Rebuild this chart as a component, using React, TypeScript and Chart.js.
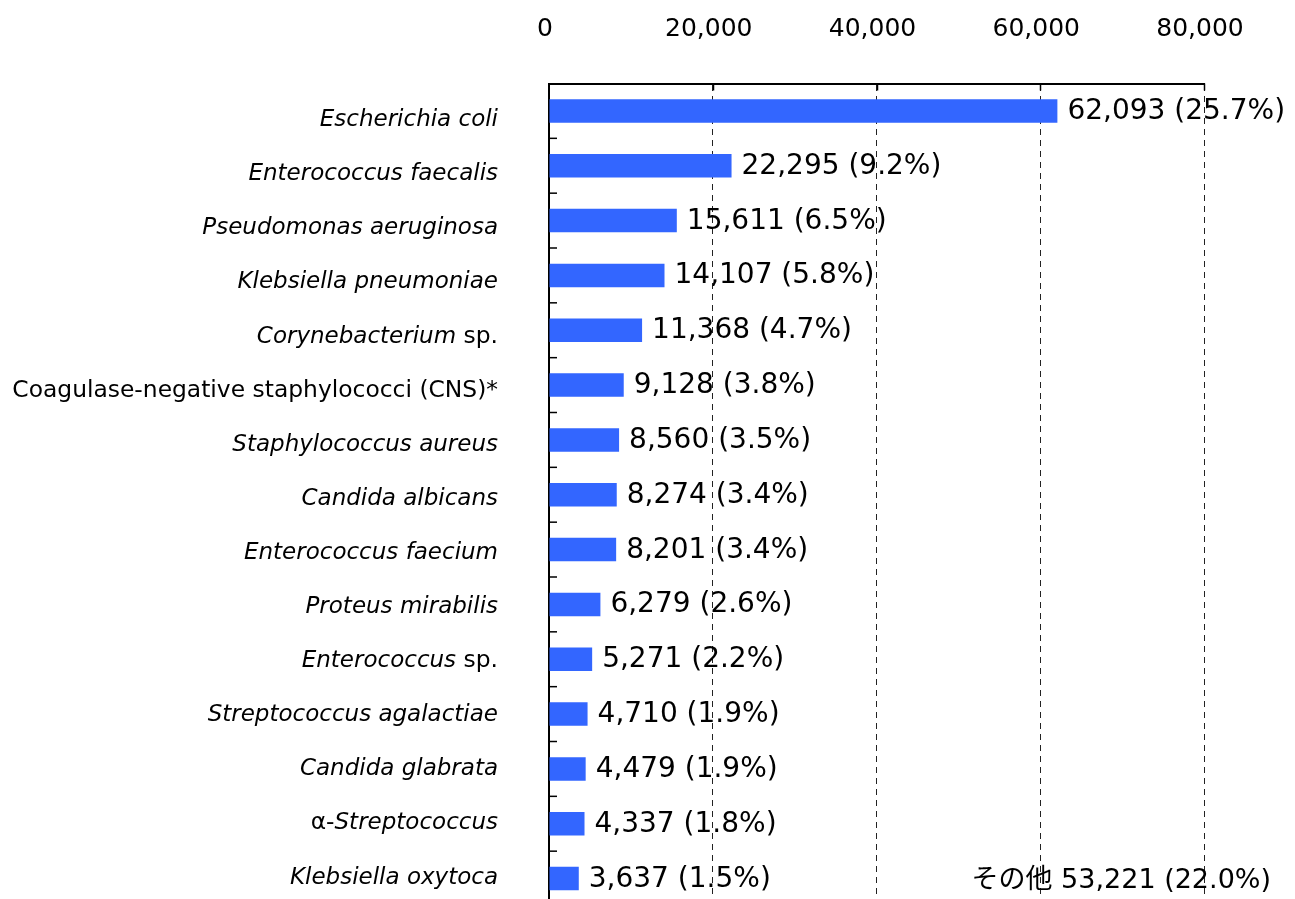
import React, { useEffect, useRef } from "react";
import { Chart, registerables } from "chart.js";

Chart.register(...registerables);

// Category names: text between underscores is drawn in italics
const categories = [
  "_Escherichia coli_",
  "_Enterococcus faecalis_",
  "_Pseudomonas aeruginosa_",
  "_Klebsiella pneumoniae_",
  "_Corynebacterium_ sp.",
  "Coagulase-negative staphylococci (CNS)*",
  "_Staphylococcus aureus_",
  "_Candida albicans_",
  "_Enterococcus faecium_",
  "_Proteus mirabilis_",
  "_Enterococcus_ sp.",
  "_Streptococcus agalactiae_",
  "_Candida glabrata_",
  "α-_Streptococcus_",
  "_Klebsiella oxytoca_",
];
const counts = [62093, 22295, 15611, 14107, 11368, 9128, 8560, 8274, 8201, 6279, 5271, 4710, 4479, 4337, 3637];
const percents = [25.7, 9.2, 6.5, 5.8, 4.7, 3.8, 3.5, 3.4, 3.4, 2.6, 2.2, 1.9, 1.9, 1.8, 1.5];
const otherLabel = "その他";
const otherCount = 53221;
const otherPercent = 22.0;
const xMin = 0;
const xMax = 80000;
const xStep = 20000;

const FONT = "'DejaVu Sans', 'Noto Sans CJK JP', sans-serif";
const BAR_COLOR = "#3366FF";

const fmt = (v: number) => v.toLocaleString("en-US");

const labelsPlugin = {
  id: "customLabels",
  afterDraw(chart: any) {
    const ctx = chart.ctx as CanvasRenderingContext2D;
    const xs = chart.scales.x;
    const ys = chart.scales.y;
    const area = chart.chartArea;
    ctx.save();

    // inward tick marks on top axis
    ctx.strokeStyle = "#000";
    ctx.lineWidth = 1.5;
    ctx.setLineDash([]);
    for (let v = xMin + xStep; v <= xMax; v += xStep) {
      const px = Math.round(xs.getPixelForValue(v)) + 0.5;
      ctx.beginPath();
      ctx.moveTo(px, area.top);
      ctx.lineTo(px, area.top + 7);
      ctx.stroke();
    }
    // inward tick marks on left axis (category boundaries)
    for (let i = 1; i < categories.length; i++) {
      const yb = (ys.getPixelForValue(i - 1) + ys.getPixelForValue(i)) / 2;
      ctx.beginPath();
      ctx.moveTo(area.left, yb);
      ctx.lineTo(area.left + 8, yb);
      ctx.stroke();
    }

    // category labels (mixed italic / upright)
    const first = ys.getPixelForValue(0);
    ctx.fillStyle = "#000";
    ctx.textBaseline = "alphabetic";
    ctx.textAlign = "left";
    const rightX = area.left - 51;
    const fontFor = (italic: boolean) => (italic ? `italic 23px ${FONT}` : `23.4px ${FONT}`);
    categories.forEach((name, i) => {
      const p = ys.getPixelForValue(i);
      const baseY = first + 15.2 + (p - first) * 0.9867;
      const parts = name.split("_");
      const segs = parts.map((t, k) => ({ t, italic: k % 2 === 1 })).filter((s) => s.t.length > 0);
      let total = 0;
      segs.forEach((s) => {
        ctx.font = fontFor(s.italic);
        total += ctx.measureText(s.t).width;
      });
      let x = rightX - total;
      segs.forEach((s) => {
        ctx.font = fontFor(s.italic);
        ctx.fillText(s.t, x, baseY);
        x += ctx.measureText(s.t).width;
      });
    });

    // value labels
    ctx.font = `28px ${FONT}`;
    ctx.fillStyle = "#000";
    counts.forEach((v, i) => {
      const px = xs.getPixelForValue(v) + 10;
      const py = ys.getPixelForValue(i) + 8;
      ctx.fillText(`${fmt(v)} (${percents[i].toFixed(1)}%)`, px, py);
    });

    // "other" label
    ctx.font = `27px ${FONT}`;
    ctx.textAlign = "right";
    const lastY = ys.getPixelForValue(categories.length - 1) + 9;
    ctx.fillText(`${otherLabel} ${fmt(otherCount)} (${otherPercent.toFixed(1)}%)`, area.right + 67, lastY);

    ctx.restore();
  },
};

export default function App() {
  const ref = useRef<HTMLCanvasElement | null>(null);

  useEffect(() => {
    if (!ref.current) return;
    const chart = new Chart(ref.current, {
      type: "bar",
      data: {
        labels: categories.map((c) => c.replace(/_/g, "")),
        datasets: [
          {
            data: counts,
            backgroundColor: BAR_COLOR,
            borderWidth: 0,
            barPercentage: 0.43,
            categoryPercentage: 1,
          },
        ],
      },
      options: {
        indexAxis: "y",
        responsive: false,
        animation: false,
        devicePixelRatio: 1,
        layout: { padding: { left: 0, right: 91, top: 0, bottom: 0 } },
        plugins: {
          legend: { display: false },
          tooltip: { enabled: false },
        },
        scales: {
          x: {
            type: "linear",
            position: "top",
            min: xMin,
            max: xMax,
            ticks: {
              stepSize: xStep,
              padding: 39,
              labelOffset: -4,
              color: "#000",
              font: { family: FONT, size: 25 },
              callback: (v: any) => fmt(Number(v)),
            },
            grid: {
              display: true,
              drawTicks: false,
              color: "#222",
              lineWidth: 1,
            },
            border: { display: true, color: "#000", width: 2, dash: [6, 5] },
            afterFit: (scale: any) => {
              scale.height = 83.5;
            },
          },
          y: {
            type: "category",
            ticks: { display: false },
            grid: { display: false, drawTicks: false },
            border: { display: true, color: "#000", width: 2 },
            afterFit: (scale: any) => {
              scale.width = 549;
            },
          },
        },
      },
      plugins: [labelsPlugin],
    } as any);
    return () => chart.destroy();
  }, []);

  return (
    <div
      style={{
        position: "fixed",
        left: 0,
        top: 0,
        width: 1295,
        height: 899,
        overflow: "hidden",
        background: "#fff",
      }}
    >
      <canvas ref={ref} width={1295} height={906} style={{ display: "block" }} />
    </div>
  );
}
